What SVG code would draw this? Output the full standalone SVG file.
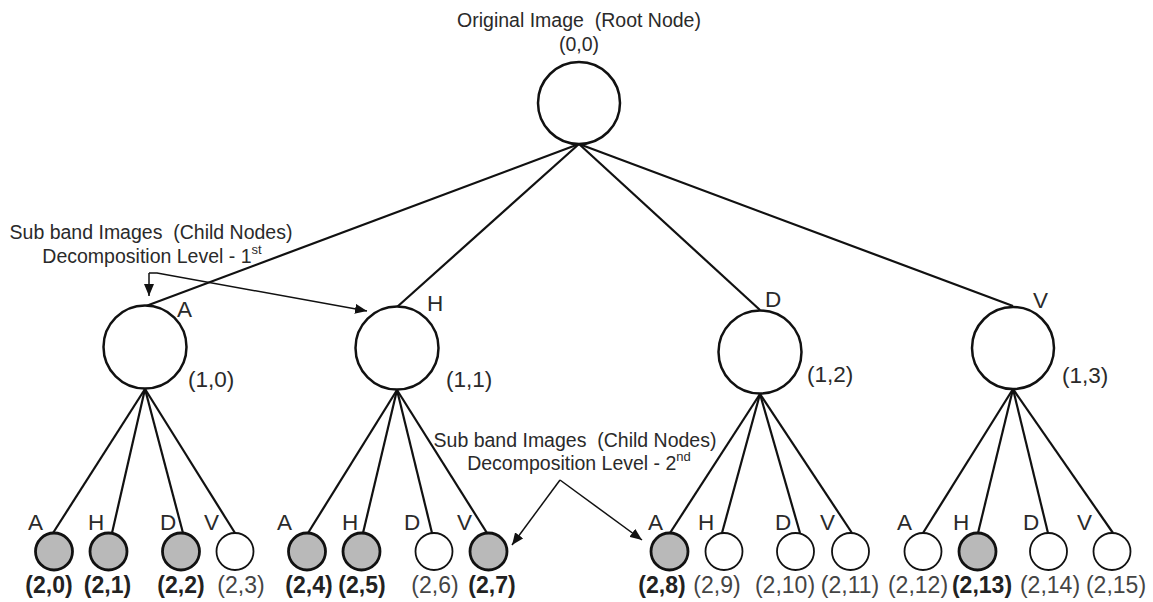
<svg xmlns="http://www.w3.org/2000/svg" width="1153" height="602" viewBox="0 0 1153 602">
<style>
  text { font-family: "Liberation Sans", Arial, sans-serif; fill: #2a2a2a; }
  .cap { font-size: 19.5px; white-space: pre; }
  .sup { font-size: 13px; }
  .lbl1 { font-size: 22.5px; }
  .let { font-size: 22.5px; }
  .lbl2 { font-size: 23px; fill: #444; }
  .b { font-weight: bold; fill: #222; }
  .n1 { fill: #fff; stroke: #111; stroke-width: 2.5; }
  .n2 { fill: #fff; stroke: #111; stroke-width: 1.8; }
  .n2g { fill: #b9b9b9; stroke: #111; stroke-width: 2.8; }
  .edge { stroke: #111; stroke-width: 2.2; fill: none; }
  .ann { stroke: #111; stroke-width: 1.5; fill: none; marker-end: url(#arr); }
</style>
<defs>
  <marker id="arr" markerUnits="userSpaceOnUse" markerWidth="12" markerHeight="10" refX="12" refY="5" orient="auto">
    <path d="M0,0 L12,5 L0,10 z" fill="#111"/>
  </marker>
</defs>
<rect width="1153" height="602" fill="#fff"/>

<g id="connectors">
  <line class="edge" x1="579" y1="144" x2="146" y2="306"/>
  <line class="edge" x1="579" y1="144" x2="397" y2="307"/>
  <line class="edge" x1="579" y1="144" x2="760" y2="310"/>
  <line class="edge" x1="579" y1="144" x2="1013" y2="306"/>
  <line class="edge" x1="145" y1="389" x2="53" y2="533"/>
  <line class="edge" x1="145" y1="389" x2="112" y2="533"/>
  <line class="edge" x1="145" y1="389" x2="183" y2="533"/>
  <line class="edge" x1="145" y1="389" x2="235" y2="533"/>
  <line class="edge" x1="397" y1="390" x2="308" y2="533"/>
  <line class="edge" x1="397" y1="390" x2="363" y2="533"/>
  <line class="edge" x1="397" y1="390" x2="432" y2="533"/>
  <line class="edge" x1="397" y1="390" x2="487" y2="533"/>
  <line class="edge" x1="760" y1="394" x2="670" y2="533"/>
  <line class="edge" x1="760" y1="394" x2="722" y2="533"/>
  <line class="edge" x1="760" y1="394" x2="800" y2="533"/>
  <line class="edge" x1="760" y1="394" x2="852" y2="533"/>
  <line class="edge" x1="1013" y1="389" x2="923" y2="533"/>
  <line class="edge" x1="1013" y1="389" x2="978" y2="533"/>
  <line class="edge" x1="1013" y1="389" x2="1048" y2="533"/>
  <line class="edge" x1="1013" y1="389" x2="1113" y2="533"/>
  <path class="ann" d="M149,273 L149,296"/>
  <path class="ann" d="M149,273 L157,273 L367,311"/>
  <path class="ann" d="M560,480 L512,545"/>
  <path class="ann" d="M560,480 L642,540"/>
</g>

<g id="annotations">
  <text class="cap" x="579" y="27" text-anchor="middle">Original Image  (Root Node)</text>
  <text class="cap" x="579" y="51" text-anchor="middle">(0,0)</text>
  <text class="cap" x="151" y="239" text-anchor="middle">Sub band Images  (Child Nodes)</text>
  <text class="cap" x="152" y="263" text-anchor="middle">Decomposition Level - 1<tspan class="sup" dy="-9">st</tspan></text>
  <text class="cap" x="575" y="447" text-anchor="middle">Sub band Images  (Child Nodes)</text>
  <text class="cap" x="579" y="470" text-anchor="middle">Decomposition Level - 2<tspan class="sup" dy="-9">nd</tspan></text>
</g>

<g id="node-0-0"><circle class="n1" cx="579" cy="103" r="41"/></g>

<g id="node-1-0"><circle class="n1" cx="145" cy="347" r="41.5"/>
  <text class="let" x="177" y="317">A</text><text class="lbl1" x="188" y="387">(1,0)</text></g>
<g id="node-1-1"><circle class="n1" cx="397" cy="348" r="41.5"/>
  <text class="let" x="427" y="311">H</text><text class="lbl1" x="446" y="387">(1,1)</text></g>
<g id="node-1-2"><circle class="n1" cx="760" cy="352" r="41.5"/>
  <text class="let" x="765" y="307">D</text><text class="lbl1" x="807" y="382">(1,2)</text></g>
<g id="node-1-3"><circle class="n1" cx="1013" cy="348" r="41"/>
  <text class="let" x="1033" y="308">V</text><text class="lbl1" x="1062" y="383">(1,3)</text></g>

<g id="node-2-0"><circle class="n2g" cx="54" cy="551.5" r="18.5"/>
  <text class="let" x="28" y="530">A</text><text class="lbl2 b" x="49" y="593" text-anchor="middle">(2,0)</text></g>
<g id="node-2-1"><circle class="n2g" cx="108.5" cy="551.5" r="18.5"/>
  <text class="let" x="88" y="530">H</text><text class="lbl2 b" x="107.5" y="593" text-anchor="middle">(2,1)</text></g>
<g id="node-2-2"><circle class="n2g" cx="181" cy="551.5" r="18.5"/>
  <text class="let" x="160" y="530">D</text><text class="lbl2 b" x="181" y="593" text-anchor="middle">(2,2)</text></g>
<g id="node-2-3"><circle class="n2" cx="235" cy="551.5" r="18.5"/>
  <text class="let" x="204" y="530">V</text><text class="lbl2" x="241" y="593" text-anchor="middle">(2,3)</text></g>
<g id="node-2-4"><circle class="n2g" cx="307" cy="551.5" r="18.5"/>
  <text class="let" x="277" y="530">A</text><text class="lbl2 b" x="309" y="593" text-anchor="middle">(2,4)</text></g>
<g id="node-2-5"><circle class="n2g" cx="361.5" cy="551.5" r="18.5"/>
  <text class="let" x="342" y="530">H</text><text class="lbl2 b" x="362" y="593" text-anchor="middle">(2,5)</text></g>
<g id="node-2-6"><circle class="n2" cx="434" cy="551.5" r="18.5"/>
  <text class="let" x="404" y="530">D</text><text class="lbl2" x="435" y="593" text-anchor="middle">(2,6)</text></g>
<g id="node-2-7"><circle class="n2g" cx="488.5" cy="551.5" r="18.5"/>
  <text class="let" x="457" y="530">V</text><text class="lbl2 b" x="492" y="593" text-anchor="middle">(2,7)</text></g>
<g id="node-2-8"><circle class="n2g" cx="669.5" cy="551.5" r="18.5"/>
  <text class="let" x="648" y="530">A</text><text class="lbl2 b" x="662" y="593" text-anchor="middle">(2,8)</text></g>
<g id="node-2-9"><circle class="n2" cx="724" cy="551.5" r="18.5"/>
  <text class="let" x="698" y="530">H</text><text class="lbl2" x="717" y="593" text-anchor="middle">(2,9)</text></g>
<g id="node-2-10"><circle class="n2" cx="795.5" cy="551.5" r="18.5"/>
  <text class="let" x="775" y="530">D</text><text class="lbl2" x="785" y="593" text-anchor="middle">(2,10)</text></g>
<g id="node-2-11"><circle class="n2" cx="850.5" cy="551.5" r="18.5"/>
  <text class="let" x="820" y="530">V</text><text class="lbl2" x="850" y="593" text-anchor="middle">(2,11)</text></g>
<g id="node-2-12"><circle class="n2" cx="923" cy="551.5" r="18.5"/>
  <text class="let" x="897" y="530">A</text><text class="lbl2" x="918" y="593" text-anchor="middle">(2,12)</text></g>
<g id="node-2-13"><circle class="n2g" cx="977.5" cy="551.5" r="18.5"/>
  <text class="let" x="953" y="530">H</text><text class="lbl2 b" x="982" y="593" text-anchor="middle">(2,13)</text></g>
<g id="node-2-14"><circle class="n2" cx="1048.5" cy="551.5" r="18.5"/>
  <text class="let" x="1023" y="530">D</text><text class="lbl2" x="1050" y="593" text-anchor="middle">(2,14)</text></g>
<g id="node-2-15"><circle class="n2" cx="1112" cy="551.5" r="18.5"/>
  <text class="let" x="1077" y="530">V</text><text class="lbl2" x="1116" y="593" text-anchor="middle">(2,15)</text></g>
</svg>
